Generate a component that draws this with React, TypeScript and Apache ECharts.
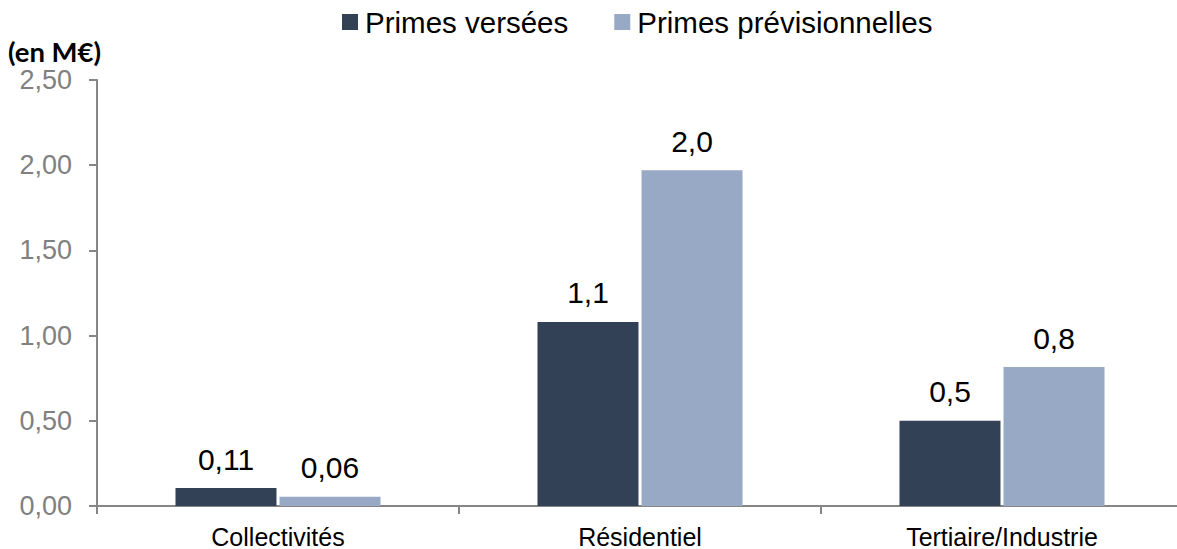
import React, { useEffect, useRef } from "react";
import * as echarts from "echarts";

const categories = ["Collectivités", "Résidentiel", "Tertiaire/Industrie"];
const seriesNames = ["Primes versées", "Primes prévisionnelles"];
const versees = [0.105, 1.08, 0.5];
const previsionnelles = [0.055, 1.97, 0.815];
const verseesLabels = ["0,11", "1,1", "0,5"];
const previsionnellesLabels = ["0,06", "2,0", "0,8"];
const colors = ["#334157", "#97a9c5"];

export default function App() {
  const ref = useRef<HTMLDivElement>(null);
  useEffect(() => {
    const chart = echarts.init(ref.current!, null, { renderer: "svg" });
    const labelStyle = {
      show: true,
      position: "top" as const,
      distance: 14,
      fontFamily: "Liberation Sans",
      fontSize: 30,
      color: "#000",
    };
    chart.setOption({
      animation: false,
      backgroundColor: "#fff",
      legend: {
        left: 337,
        top: 2,
        itemWidth: 16,
        itemHeight: 16,
        itemGap: 46,
        icon: "rect",
        textStyle: { fontFamily: "Liberation Sans", fontSize: 29.5, color: "#000", padding: [0, 0, 0, 2] },
        data: seriesNames,
      },
      graphic: [
        {
          type: "text",
          left: 8,
          top: 37,
          style: { text: "(en M€)", font: "bold 27.5px Lato", fill: "#000" },
        },
      ],
      grid: { left: 97, top: 80, bottom: 43, width: 1086, outerBoundsMode: "none", containLabel: false },
      xAxis: {
        type: "category",
        data: categories,
        axisLine: { lineStyle: { color: "#868686", width: 2 } },
        axisTick: { show: true, length: 8, lineStyle: { color: "#868686", width: 2 } },
        axisLabel: { fontFamily: "Liberation Sans", fontSize: 25, color: "#000", margin: 18 },
      },
      yAxis: {
        type: "value",
        min: 0,
        max: 2.5,
        interval: 0.5,
        splitLine: { show: false },
        axisLine: { show: true, lineStyle: { color: "#868686", width: 2 } },
        axisTick: { show: true, length: 8, lineStyle: { color: "#868686", width: 2 } },
        axisLabel: {
          fontFamily: "Liberation Sans",
          fontSize: 27,
          color: "#808080",
          margin: 25,
          formatter: (v: number) => v.toFixed(2).replace(".", ","),
        },
      },
      series: [
        {
          name: seriesNames[0],
          type: "bar",
          data: versees,
          barWidth: 101,
          barGap: "3%",
          itemStyle: { color: colors[0] },
          label: { ...labelStyle, formatter: (p: any) => verseesLabels[p.dataIndex] },
        },
        {
          name: seriesNames[1],
          type: "bar",
          data: previsionnelles,
          barWidth: 101,
          itemStyle: { color: colors[1] },
          label: { ...labelStyle, formatter: (p: any) => previsionnellesLabels[p.dataIndex] },
        },
      ],
    });
    return () => chart.dispose();
  }, []);
  return (
    <div
      ref={ref}
      style={{ position: "fixed", left: 0, top: 0, width: 1177, height: 549 }}
    />
  );
}
